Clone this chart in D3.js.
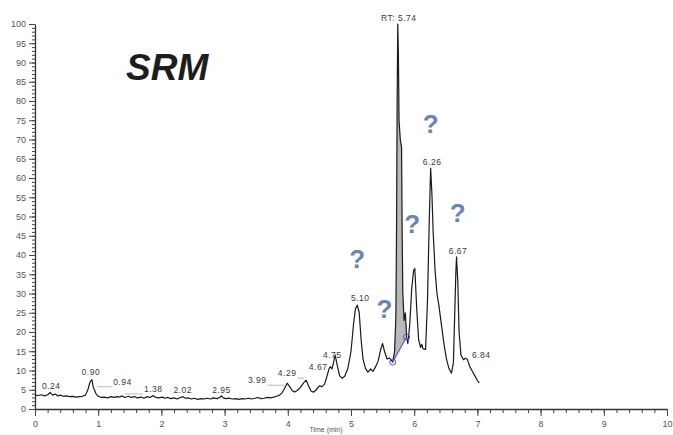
<!DOCTYPE html>
<html>
<head>
<meta charset="utf-8">
<script src="https://cdn.jsdelivr.net/npm/d3@7/dist/d3.min.js"></script>
<style>
  html, body { margin: 0; padding: 0; background: #fff; }
  svg { display: block; }
</style>
</head>
<body>
<svg id="chart" width="673" height="435"></svg>
<script>
// SRM chromatogram: retention time (min) vs relative abundance (%)
const rt = [
  0.00,0.05,0.10,0.15,0.20,0.24,0.28,0.32,0.36,0.40,0.45,0.50,0.55,0.60,0.65,0.70,0.75,0.80,
  0.84,0.87,0.90,0.92,0.94,0.97,1.00,1.05,1.10,1.15,1.20,1.25,1.30,1.34,1.38,1.42,1.48,1.52,
  1.58,1.62,1.68,1.72,1.78,1.82,1.87,1.90,1.95,2.02,2.05,2.10,2.15,2.20,2.25,2.30,2.34,2.38,
  2.42,2.48,2.52,2.58,2.62,2.68,2.72,2.78,2.82,2.88,2.92,2.95,2.98,3.02,3.08,3.12,3.18,3.22,
  3.28,3.32,3.38,3.42,3.48,3.52,3.58,3.62,3.68,3.72,3.78,3.82,3.87,3.91,3.95,3.99,4.03,4.07,
  4.11,4.15,4.20,4.25,4.29,4.33,4.37,4.41,4.45,4.50,4.54,4.58,4.62,4.65,4.67,4.70,4.73,4.75,
  4.78,4.82,4.86,4.90,4.95,5.00,5.04,5.07,5.10,5.13,5.16,5.19,5.23,5.27,5.31,5.35,5.39,5.43,
  5.47,5.50,5.53,5.57,5.61,5.66,5.69,5.71,5.72,5.73,5.74,5.75,5.76,5.78,5.80,5.81,5.82,5.84,
  5.86,5.87,5.88,5.90,5.93,5.96,5.99,6.01,6.04,6.07,6.10,6.12,6.14,6.18,6.21,6.24,6.26,6.28,
  6.30,6.33,6.36,6.39,6.43,6.47,6.51,6.55,6.59,6.62,6.64,6.66,6.67,6.69,6.71,6.74,6.78,6.81,
  6.84,6.88,6.92,6.96,7.00,7.03
];
const abundance = [
  3.6,3.5,3.7,3.4,3.7,4.3,3.6,3.9,3.4,3.6,3.3,3.4,3.2,3.3,3.1,3.2,3.3,3.6,
  5.2,7.0,7.6,5.8,5.0,3.8,3.3,3.0,3.1,2.9,3.2,3.0,3.2,3.1,3.4,3.0,3.3,3.0,
  3.2,2.9,3.1,2.8,3.2,3.0,3.5,3.1,2.9,3.1,2.8,3.0,2.7,2.9,2.6,3.0,3.2,2.8,
  2.9,2.6,2.8,2.5,2.7,2.6,2.8,2.6,2.9,2.7,3.0,3.4,2.9,2.7,2.8,2.6,2.7,2.5,
  2.7,2.6,2.8,2.6,2.8,3.0,2.7,2.8,3.0,2.9,3.1,3.3,3.6,4.2,5.4,6.7,5.8,4.8,
  4.4,4.8,5.6,6.8,7.5,6.0,4.6,4.4,5.0,6.0,5.8,6.4,8.5,10.3,11.0,10.4,12.5,14.0,
  11.5,8.6,8.0,8.5,10.5,15.0,22.0,26.0,27.0,25.0,18.0,13.0,10.5,9.6,10.4,9.8,11.0,12.5,
  15.5,17.0,15.0,13.0,13.2,12.2,15.0,24.0,45.0,80.0,100.0,92.0,75.0,70.0,68.0,45.0,30.0,23.0,
  25.0,22.0,18.7,17.0,22.0,31.0,36.0,36.5,26.0,18.0,16.0,16.8,15.6,15.5,28.0,50.0,62.5,56.0,
  46.0,36.0,30.0,27.0,22.0,17.0,13.0,10.5,9.3,12.0,24.0,36.0,39.5,33.0,20.0,14.0,12.8,13.2,
  12.9,11.0,9.8,8.6,7.4,6.8
];

// Annotated peak retention times
const peakLabels = [0.24, 0.90, 0.94, 1.38, 2.02, 2.95, 3.99, 4.29, 4.67, 4.75, 5.10, 5.74, 6.26, 6.67, 6.84];
// Label placement relative to each peak apex (px); leader = draw connector
const labelLayout = [
  {dx: 1, dy: -3}, {dx: -1, dy: -5}, {dx: 28, dy: -5, leader: true}, {dx: 31, dy: -4, leader: true},
  {dx: 20, dy: -4}, {dx: 0, dy: -3}, {dx: -30, dy: 0, leader: true}, {dx: -19, dy: -4, leader: true},
  {dx: -12, dy: 3}, {dx: -3, dy: 3}, {dx: 3, dy: -4}, {dx: 1, dy: -3},
  {dx: 1.5, dy: -3.5}, {dx: 1.5, dy: -3}, {dx: 14, dy: -1}
];
// Integrated peak boundaries (retention time)
const integration = [5.66, 5.88];

// Unknown-peak markers: [retention time, abundance]
const unknownRt = [6.26, 6.69, 5.97, 5.10, 5.53];
const unknownAb = [74, 51, 48, 39, 26];

const xTicks = [0,1,2,3,4,5,6,7,8,9,10];
const yTicks = d3.range(0, 101, 5);

const svg = d3.select("#chart");
const x = d3.scaleLinear().domain([0, 10]).range([35, 667]);
const y = d3.scaleLinear().domain([0, 100]).range([409, 24]);

const data = rt.map((t, i) => ({t, v: abundance[i]}));
const valueAt = t => {
  const i = d3.bisector(d => d.t).left(data, t);
  if (i <= 0) return data[0].v;
  if (i >= data.length) return data[data.length - 1].v;
  const a = data[i - 1], b = data[i];
  return a.v + (b.v - a.v) * (t - a.t) / (b.t - a.t);
};

// Integrated area under the main peak
const [b0, b1] = integration;
const v0 = valueAt(b0), v1 = valueAt(b1);
const baseAt = t => v0 + (v1 - v0) * (t - b0) / (b1 - b0);
const areaPts = data.filter(d => d.t >= b0 && d.t <= b1);
svg.append("path")
  .datum(areaPts)
  .attr("fill", "#b9b9b9")
  .attr("d", d3.area().x(d => x(d.t)).y0(d => y(baseAt(d.t))).y1(d => y(d.v)));

// Axes: minor ticks first, then major
const gx = svg.append("g").attr("transform", "translate(0,409)");
gx.call(d3.axisBottom(x).tickValues(d3.range(0, 10.01, 0.2)).tickSize(4).tickFormat(""))
  .call(g => g.select(".domain").remove());
gx.append("g").call(d3.axisBottom(x).tickValues(xTicks).tickSize(7).tickSizeOuter(0).tickFormat(d3.format("d")));

const gy = svg.append("g").attr("transform", "translate(35,0)");
gy.call(d3.axisLeft(y).tickValues(d3.range(0, 101, 1)).tickSize(3).tickFormat(""))
  .call(g => g.select(".domain").remove());
gy.append("g").call(d3.axisLeft(y).tickValues(yTicks).tickSize(6).tickSizeOuter(0).tickFormat(d3.format("d")));

svg.selectAll(".domain").attr("stroke", "#333").attr("stroke-width", 1.3);
svg.selectAll(".tick line").attr("stroke", "#444");
svg.selectAll(".tick text")
  .attr("fill", "#555")
  .attr("font-family", "Liberation Sans, Arial, sans-serif")
  .attr("font-size", 9);
gx.selectAll(".tick text").attr("dy", "0.9em");

svg.append("text")
  .attr("x", 326).attr("y", 432)
  .attr("text-anchor", "middle")
  .attr("font-family", "Liberation Sans, Arial, sans-serif")
  .attr("font-size", 7)
  .attr("fill", "#555")
  .text("Time (min)");

// Chromatogram trace
svg.append("path")
  .datum(data)
  .attr("fill", "none")
  .attr("stroke", "#1a1a1a")
  .attr("stroke-width", 1.2)
  .attr("stroke-linejoin", "round")
  .attr("d", d3.line().x(d => x(d.t)).y(d => y(d.v)));

// Integration baseline with boundary markers
const g0 = [x(b0), y(v0)], g1 = [x(b1), y(v1)];
svg.append("line")
  .attr("x1", g0[0]).attr("y1", g0[1]).attr("x2", g1[0]).attr("y2", g1[1])
  .attr("stroke", "#5a55d6").attr("stroke-width", 1.2);
[g0, g1].forEach(p => svg.append("circle")
  .attr("cx", p[0]).attr("cy", p[1]).attr("r", 3)
  .attr("fill", "none").attr("stroke", "#5a55d6").attr("stroke-width", 1));

// Peak labels
const labelFont = "Liberation Sans, Arial, sans-serif";
peakLabels.forEach((t, i) => {
  const L = labelLayout[i];
  const px = x(t), py = y(valueAt(t));
  const lx = px + L.dx, ly = py + L.dy;
  const txt = (t === 5.74 ? "RT: " : "") + t.toFixed(2);
  const el = svg.append("text")
    .attr("x", lx).attr("y", ly)
    .attr("text-anchor", "middle")
    .attr("font-family", labelFont)
    .attr("font-size", 8.5)
    .attr("letter-spacing", 0.5)
    .attr("fill", "#3a3a3a")
    .text(txt);
  if (L.leader) {
    const w = el.node().getComputedTextLength();
    const edge = L.dx > 0 ? lx - w / 2 - 1 : lx + w / 2 + 1;
    svg.append("line")
      .attr("x1", edge).attr("y1", ly + 2)
      .attr("x2", px + (L.dx > 0 ? 3 : -2)).attr("y2", ly + 2)
      .attr("stroke", "#8fc98f").attr("stroke-width", 0.9);
  }
});

// Unknown peaks
unknownRt.forEach((t, i) => {
  svg.append("text")
    .attr("x", x(t)).attr("y", y(unknownAb[i]))
    .attr("text-anchor", "middle")
    .attr("dominant-baseline", "central")
    .attr("font-family", labelFont)
    .attr("font-weight", "bold")
    .attr("font-size", 26)
    .attr("fill", "#6a84b6")
    .text("?");
});

// Title
svg.append("text")
  .attr("x", 126).attr("y", 80)
  .attr("font-family", labelFont)
  .attr("font-weight", "bold")
  .attr("font-style", "italic")
  .attr("font-size", 37)
  .attr("fill", "#1d1d1d")
  .text("SRM");
</script>
</body>
</html>
